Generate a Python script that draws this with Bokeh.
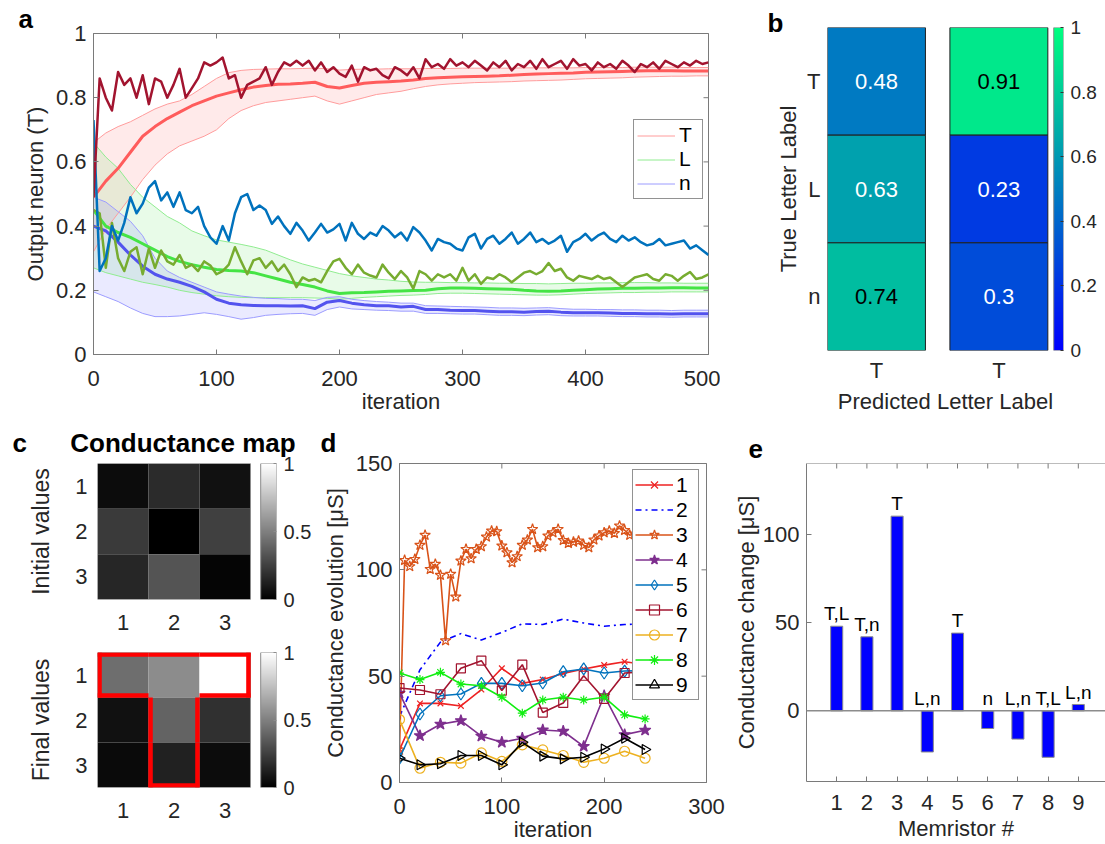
import numpy as np
from bokeh.plotting import figure
from bokeh.models import (Range1d, LinearAxis, FixedTicker, Legend, LegendItem, Title,
                          Span, ColumnDataSource, LinearColorMapper)
from bokeh.transform import linear_cmap
from bokeh.layouts import column, row
from bokeh.embed import file_html
from bokeh.resources import INLINE
from bokeh.core.properties import value

# ======================= DATA =======================
# ---- panel a : output neuron (T) vs iteration ----
iter_run = list(range(0, 501, 5))
T_run = [0.49, 0.86, 0.80, 0.76, 0.88, 0.84, 0.86, 0.80, 0.87, 0.78,
         0.86, 0.85, 0.80, 0.84, 0.89, 0.80, 0.83, 0.86, 0.91, 0.90,
         0.91, 0.925, 0.86, 0.87, 0.80, 0.84, 0.85, 0.86, 0.895, 0.84,
         0.88, 0.91, 0.90, 0.915, 0.90, 0.915, 0.885, 0.91, 0.88, 0.895,
         0.875, 0.865, 0.90, 0.85, 0.895, 0.885, 0.89, 0.87, 0.86, 0.895,
         0.885, 0.87, 0.895, 0.86, 0.92, 0.895, 0.905, 0.89, 0.92, 0.90,
         0.91, 0.895, 0.915, 0.90, 0.885, 0.91, 0.895, 0.915, 0.885, 0.905,
         0.895, 0.915, 0.89, 0.92, 0.895, 0.905, 0.915, 0.89, 0.92, 0.90,
         0.905, 0.885, 0.91, 0.895, 0.905, 0.89, 0.915, 0.90, 0.88, 0.905,
         0.895, 0.91, 0.89, 0.915, 0.905, 0.895, 0.91, 0.90, 0.915, 0.905, 0.91]
blue_run = [0.73, 0.26, 0.30, 0.40, 0.355, 0.41, 0.49, 0.44, 0.47, 0.52,
            0.54, 0.48, 0.505, 0.46, 0.505, 0.45, 0.44, 0.46, 0.40, 0.365,
            0.345, 0.40, 0.355, 0.44, 0.49, 0.50, 0.45, 0.464, 0.45, 0.407,
            0.43, 0.40, 0.376, 0.41, 0.386, 0.355, 0.38, 0.407, 0.38, 0.39,
            0.407, 0.355, 0.41, 0.376, 0.36, 0.38, 0.37, 0.40, 0.386, 0.365,
            0.38, 0.355, 0.397, 0.38, 0.355, 0.324, 0.36, 0.35, 0.345, 0.33,
            0.324, 0.365, 0.376, 0.33, 0.36, 0.37, 0.345, 0.36, 0.38, 0.345,
            0.36, 0.38, 0.35, 0.36, 0.345, 0.355, 0.37, 0.32, 0.35, 0.36,
            0.376, 0.355, 0.37, 0.38, 0.36, 0.35, 0.37, 0.355, 0.365, 0.35,
            0.34, 0.345, 0.36, 0.34, 0.345, 0.35, 0.355, 0.33, 0.34, 0.325, 0.31]
green_run = [0.45, 0.44, 0.27, 0.41, 0.30, 0.26, 0.32, 0.334, 0.25, 0.33,
             0.27, 0.324, 0.29, 0.28, 0.31, 0.27, 0.28, 0.26, 0.29, 0.277,
             0.25, 0.26, 0.28, 0.334, 0.29, 0.25, 0.293, 0.30, 0.27, 0.29,
             0.26, 0.28, 0.25, 0.21, 0.24, 0.23, 0.235, 0.225, 0.26, 0.29,
             0.298, 0.27, 0.25, 0.28, 0.255, 0.246, 0.24, 0.28, 0.255, 0.235,
             0.26, 0.24, 0.205, 0.26, 0.25, 0.23, 0.25, 0.24, 0.25, 0.23,
             0.27, 0.23, 0.25, 0.22, 0.24, 0.235, 0.25, 0.24, 0.225, 0.24,
             0.255, 0.26, 0.25, 0.26, 0.285, 0.26, 0.267, 0.24, 0.23, 0.245,
             0.24, 0.235, 0.245, 0.235, 0.24, 0.225, 0.21, 0.225, 0.24, 0.245,
             0.25, 0.235, 0.23, 0.25, 0.245, 0.23, 0.245, 0.257, 0.235, 0.24, 0.25]

iter_avg = list(range(0, 501, 10))
T_mean = [0.49, 0.54, 0.58, 0.63, 0.68, 0.71, 0.735, 0.755, 0.775, 0.79,
          0.805, 0.815, 0.825, 0.833, 0.838, 0.842, 0.843, 0.845, 0.848, 0.835,
          0.83, 0.838, 0.845, 0.848, 0.85, 0.852, 0.855, 0.86, 0.862, 0.864,
          0.865, 0.866, 0.867, 0.868, 0.87, 0.872, 0.874, 0.875, 0.876, 0.877,
          0.879, 0.88, 0.881, 0.882, 0.883, 0.884, 0.884, 0.884, 0.883, 0.883, 0.883]
T_hi = [0.66, 0.69, 0.71, 0.725, 0.745, 0.765, 0.78, 0.79, 0.81, 0.835,
        0.86, 0.878, 0.885, 0.888, 0.889, 0.89, 0.89, 0.891, 0.892, 0.89,
        0.886, 0.888, 0.889, 0.889, 0.89, 0.89, 0.89, 0.891, 0.891, 0.891,
        0.892, 0.892, 0.892, 0.892, 0.892, 0.893, 0.893, 0.893, 0.893, 0.893,
        0.894, 0.894, 0.894, 0.894, 0.895, 0.895, 0.895, 0.895, 0.894, 0.894, 0.894]
T_lo = [0.32, 0.39, 0.44, 0.49, 0.545, 0.59, 0.625, 0.65, 0.665, 0.68,
        0.70, 0.735, 0.76, 0.775, 0.785, 0.79, 0.795, 0.80, 0.805, 0.79,
        0.78, 0.79, 0.80, 0.81, 0.815, 0.82, 0.828, 0.835, 0.84, 0.843,
        0.845, 0.847, 0.848, 0.849, 0.85, 0.852, 0.853, 0.854, 0.855, 0.857,
        0.859, 0.86, 0.861, 0.862, 0.864, 0.865, 0.866, 0.867, 0.867, 0.868, 0.868]
L_mean = [0.45, 0.40, 0.38, 0.365, 0.345, 0.325, 0.305, 0.29, 0.28, 0.272,
          0.265, 0.262, 0.26, 0.255, 0.245, 0.235, 0.225, 0.218, 0.21, 0.198,
          0.19, 0.192, 0.193, 0.195, 0.197, 0.198, 0.199, 0.20, 0.205, 0.207,
          0.207, 0.206, 0.205, 0.204, 0.203, 0.20, 0.198, 0.197, 0.198, 0.20,
          0.202, 0.204, 0.205, 0.206, 0.206, 0.207, 0.207, 0.208, 0.208, 0.207, 0.207]
L_hi = [0.66, 0.615, 0.58, 0.53, 0.49, 0.46, 0.43, 0.41, 0.385, 0.37,
        0.357, 0.35, 0.343, 0.335, 0.325, 0.31, 0.295, 0.282, 0.272, 0.262,
        0.252, 0.245, 0.24, 0.235, 0.232, 0.228, 0.226, 0.225, 0.225, 0.224,
        0.224, 0.223, 0.223, 0.222, 0.222, 0.221, 0.221, 0.22, 0.221, 0.222,
        0.222, 0.223, 0.223, 0.224, 0.224, 0.224, 0.223, 0.223, 0.222, 0.222, 0.222]
L_lo = [0.27, 0.255, 0.245, 0.235, 0.225, 0.218, 0.21, 0.20, 0.193, 0.188,
        0.183, 0.18, 0.178, 0.177, 0.177, 0.177, 0.177, 0.177, 0.176, 0.175,
        0.172, 0.175, 0.178, 0.18, 0.182, 0.184, 0.185, 0.187, 0.19, 0.191,
        0.191, 0.19, 0.189, 0.188, 0.187, 0.186, 0.185, 0.185, 0.186, 0.188,
        0.19, 0.191, 0.192, 0.193, 0.193, 0.194, 0.194, 0.195, 0.195, 0.195, 0.195]
n_mean = [0.40, 0.385, 0.35, 0.31, 0.275, 0.25, 0.235, 0.225, 0.212, 0.195,
          0.172, 0.16, 0.155, 0.153, 0.152, 0.152, 0.151, 0.152, 0.143, 0.163,
          0.168, 0.16, 0.155, 0.152, 0.152, 0.148, 0.15, 0.14, 0.14, 0.138,
          0.137, 0.137, 0.135, 0.133, 0.133, 0.132, 0.134, 0.135, 0.132, 0.13,
          0.13, 0.13, 0.129, 0.128, 0.128, 0.127, 0.127, 0.126, 0.127, 0.127, 0.127]
n_hi = [0.49, 0.475, 0.445, 0.415, 0.37, 0.30, 0.26, 0.24, 0.225, 0.21,
        0.195, 0.188, 0.182, 0.178, 0.175, 0.174, 0.172, 0.172, 0.168, 0.178,
        0.18, 0.172, 0.168, 0.165, 0.163, 0.16, 0.16, 0.152, 0.151, 0.15,
        0.149, 0.148, 0.147, 0.145, 0.145, 0.144, 0.145, 0.146, 0.143, 0.141,
        0.141, 0.14, 0.14, 0.139, 0.139, 0.138, 0.138, 0.137, 0.138, 0.138, 0.138]
n_lo = [0.195, 0.18, 0.165, 0.145, 0.128, 0.118, 0.118, 0.12, 0.125, 0.13,
        0.125, 0.118, 0.11, 0.115, 0.122, 0.125, 0.127, 0.128, 0.122, 0.14,
        0.148, 0.142, 0.14, 0.138, 0.137, 0.135, 0.135, 0.128, 0.128, 0.127,
        0.126, 0.126, 0.124, 0.122, 0.122, 0.121, 0.123, 0.124, 0.121, 0.12,
        0.12, 0.12, 0.119, 0.118, 0.118, 0.117, 0.117, 0.116, 0.117, 0.117, 0.117]
a_xticks = [0, 100, 200, 300, 400, 500]
a_yticks = [0, 0.2, 0.4, 0.6, 0.8, 1]
a_ylabels = ["0", "0.2", "0.4", "0.6", "0.8", "1"]

# ---- panel b : confusion values ----
true_labels = ["T", "L", "n"]
pred_labels = ["T", "T"]
conf_left = [0.48, 0.63, 0.74]
conf_right = [0.91, 0.23, 0.3]
b_cticks = [0, 0.2, 0.4, 0.6, 0.8, 1]
b_clabels = ["0", "0.2", "0.4", "0.6", "0.8", "1"]

# ---- panel c : conductance maps (normalised) ----
init_map = [[0.05, 0.17, 0.07],
            [0.23, 0.00, 0.25],
            [0.15, 0.33, 0.02]]
final_map = [[0.43, 0.55, 1.00],
             [0.07, 0.39, 0.19],
             [0.04, 0.13, 0.05]]
T_mask = [[1, 1, 1],
          [0, 1, 0],
          [0, 1, 0]]

# ---- panel d : conductance evolution ----
iter_d = [0, 20, 40, 60, 80, 100, 120, 140, 160, 180, 200, 220, 240]
g1 = [15.3, 37.2, 37.2, 36.0, 43.7, 53.7, 46.6, 48.4, 51.3, 53.4, 55.2, 56.8, 55.5]
g2 = [31, 53, 66, 70, 67, 70.6, 74.6, 74.3, 76.8, 75, 73.5, 74.3, 74.6]
g4 = [42, 22, 27.4, 29.1, 21.8, 18.9, 20.8, 24.7, 24.1, 17, 40.8, 22.5, 24.6]
g5 = [11.4, 32.2, 40.8, 41.6, 46.6, 46.6, 45.5, 46.8, 52.1, 53.4, 51.5, 52.4, 52.6]
g6 = [44.4, 43.5, 41.5, 53.7, 57.3, 43.2, 55.4, 32.9, 37.4, 50.2, 39.3, 51.5, 52]
g7 = [29.6, 6.7, 9.5, 9.1, 13.9, 9.9, 17.7, 15.3, 12.7, 9.5, 11.4, 14.7, 11.4]
g8 = [51.5, 48.4, 51.8, 46.3, 45.5, 40.1, 32.6, 38.8, 40.1, 38.8, 40.1, 31.8, 29.9]
g9 = [11.4, 8.3, 8.8, 12.7, 12.7, 8.3, 18.9, 12.4, 11.1, 11.9, 15.8, 20.8, 15.5]
iter_d3 = list(range(0, 241, 5))
g3 = [15.3, 104.5, 101.6, 105, 111.6, 116.3, 100.3, 102.7, 97.5, 66.7,
      98, 87.3, 104.2, 109.7, 105.3, 109.7, 111, 115.5, 118.3, 118,
      111.3, 108.1, 103.4, 106.3, 111.6, 114.1, 119.1, 110.5, 111, 116,
      117.5, 119.1, 113.9, 112.5, 113.1, 113.6, 111.6, 110.5, 114.1, 116,
      117.5, 118.3, 117.2, 120.7, 118.6, 116.3, 117, 118, 116.5]
d_xticks = [0, 100, 200, 300]
d_yticks = [0, 50, 100, 150]

# ---- panel e : conductance change ----
memristor = [1, 2, 3, 4, 5, 6, 7, 8, 9]
g_change = [47.9, 41.9, 110.2, -23.3, 44.0, -10.0, -16.0, -26.3, 3.6]
change_labels = ["T,L", "T,n", "T", "L,n", "T", "n", "L,n", "T,L", "L,n"]
e_yticks = [0, 50, 100]

# ======================= STYLE =======================
FONT = "Liberation Sans"
TXT = "#262626"
AX = "#7a7a7a"
NB = "\u00a0"


def base_fig(w, h, l, r, t, b, xr, yr):
    p = figure(width=w, height=h, x_range=xr, y_range=yr, output_backend="svg",
               toolbar_location=None, min_border_left=l, min_border_right=r,
               min_border_top=t, min_border_bottom=b, frame_align=False)
    p.xgrid.visible = False
    p.ygrid.visible = False
    p.outline_line_color = None
    p.border_fill_color = "white"
    p.background_fill_color = "white"
    p.title.visible = False
    return p


def style_axis(ax, size="21px", standoff=8, lstandoff=4):
    ax.axis_line_color = AX
    ax.major_tick_line_color = AX
    ax.major_tick_in = 5
    ax.major_tick_out = 0
    ax.minor_tick_line_color = None
    ax.major_label_text_font = FONT
    ax.major_label_text_font_size = size
    ax.major_label_text_color = TXT
    ax.major_label_standoff = standoff
    ax.axis_label_text_font = FONT
    ax.axis_label_text_font_size = size
    ax.axis_label_text_font_style = "normal"
    ax.axis_label_text_color = TXT
    ax.axis_label_standoff = lstandoff


def edge_ticks(p, top_ticks=None, right_ticks=None):
    # MATLAB-style inward ticks on the top / right box edges
    if top_ticks is not None:
        p.scatter(x=top_ticks, y=[p.y_range.end] * len(top_ticks), marker="dash",
                  angle=np.pi / 2, size=10, line_color=AX, line_width=1)
    if right_ticks is not None:
        p.scatter(x=[p.x_range.end] * len(right_ticks), y=right_ticks, marker="dash",
                  size=10, line_color=AX, line_width=1)


def set_letter(p, text, offset, standoff, size="26px"):
    p.title = Title(text=text, align="left", offset=offset, standoff=standoff,
                    text_font=FONT, text_font_size=size, text_font_style="bold",
                    text_color="black")


winter = ["#00%02x%02x" % (int(round(255 * t)), int(round(255 * (1 - 0.5 * t))))
          for t in np.linspace(0, 1, 256)]
grays = ["#%02x%02x%02x" % (v, v, v) for v in range(256)]
grad = np.linspace(0, 1, 256).reshape(256, 1)

# ======================= PANEL A =======================
pa = base_fig(720, 418, 93, 12, 33, 64, Range1d(0, 500), Range1d(0, 1))
pa.outline_line_color = AX
band_specs = [
    (T_lo, T_hi, T_mean, "#ff6b6b", "#ff9c9c", "#ff5c5c", "T"),
    (L_lo, L_hi, L_mean, "#5fe35f", "#90ec90", "#45e445", "L"),
    (n_lo, n_hi, n_mean, "#6b6bff", "#9c9cff", "#5353ee", "n"),
]
for lo, hi, mean, fillc, edgec, meanc, lab in band_specs:
    pa.varea(x=iter_avg, y1=lo, y2=hi, fill_color=fillc, fill_alpha=0.14)
leg_items = []
for lo, hi, mean, fillc, edgec, meanc, lab in band_specs:
    pa.line(iter_avg, lo, line_color=edgec, line_width=1)
    r = pa.line(iter_avg, hi, line_color=edgec, line_width=1)
    leg_items.append(LegendItem(label=value(lab), renderers=[r]))
for lo, hi, mean, fillc, edgec, meanc, lab in band_specs:
    pa.line(iter_avg, mean, line_color=meanc, line_width=3, line_join="round")
pa.line(iter_run, green_run, line_color="#77AC30", line_width=2.5, line_join="round")
pa.line(iter_run, blue_run, line_color="#0072BD", line_width=2.5, line_join="round")
pa.line(iter_run, T_run, line_color="#A2142F", line_width=2.5, line_join="round")

axb = pa.below[0]
axl = pa.left[0]
style_axis(axb, size="22px", standoff=16, lstandoff=0)
style_axis(axl, size="22px", standoff=7, lstandoff=5)
axb.ticker = FixedTicker(ticks=a_xticks)
axl.ticker = FixedTicker(ticks=a_yticks)
axl.major_label_overrides = dict(zip(a_yticks, a_ylabels))
axb.axis_label = "iteration"
axl.axis_label = "Output neuron (T)"
edge_ticks(pa, a_xticks, a_yticks)

leg_a = Legend(items=leg_items, location=(540, 155))
leg_a.label_text_font = FONT
leg_a.label_text_font_size = "21px"
leg_a.label_text_color = "black"
leg_a.glyph_width = 38
leg_a.glyph_height = 23
leg_a.label_height = 23
leg_a.padding = 3
leg_a.spacing = 0
leg_a.label_standoff = 4
leg_a.margin = 0
leg_a.border_line_color = "#262626"
leg_a.border_line_width = 1
leg_a.background_fill_color = "white"
leg_a.background_fill_alpha = 1
pa.add_layout(leg_a)
set_letter(pa, "a", -75, 0)

# ======================= PANEL B =======================
pb = base_fig(385, 418, 107, 42, 27, 68, Range1d(-0.5, 1.91), Range1d(-0.5, 2.5))
col_x = [0, 1.25]
row_y = [2, 1, 0]
bx, by, bv = [], [], []
for cx, vals in zip(col_x, [conf_left, conf_right]):
    for ry, v in zip(row_y, vals):
        bx.append(cx)
        by.append(ry)
        bv.append(v)
src_b = ColumnDataSource(dict(x=bx, y=by, v=bv, t=["%g" % v for v in bv],
                              tc=["white" if v < 0.7 else "black" for v in bv]))
pb.rect(x="x", y="y", width=1, height=1, source=src_b,
        fill_color=linear_cmap("v", winter, 0, 1), line_color="#1e1e1e", line_width=1)
pb.text(x="x", y="y", text="t", source=src_b, text_color="tc", text_align="center",
        text_baseline="middle", text_font=value(FONT), text_font_size="22px")
pb.image(image=[grad], x=1.81, y=-0.5, dw=0.1, dh=3,
         color_mapper=LinearColorMapper(palette=winter, low=0, high=1))
pb.quad(left=1.81, right=1.91, bottom=-0.5, top=2.5, fill_color=None, line_color="#8c8c8c")
pb.extra_y_ranges = {"cb": Range1d(0, 1)}
cb_ax = LinearAxis(y_range_name="cb", ticker=FixedTicker(ticks=b_cticks))
style_axis(cb_ax, size="19px", standoff=7)
cb_ax.axis_line_color = None
cb_ax.major_tick_in = 3
cb_ax.major_tick_line_color = "#333333"
cb_ax.major_label_overrides = dict(zip(b_cticks, b_clabels))
pb.add_layout(cb_ax, "right")
bl = pb.left[0]
bb = pb.below[0]
style_axis(bl, size="22px", standoff=7, lstandoff=3)
style_axis(bb, size="22px", standoff=7, lstandoff=3)
bl.ticker = FixedTicker(ticks=row_y)
bl.major_label_overrides = dict(zip(row_y, true_labels))
bb.ticker = FixedTicker(ticks=col_x)
bb.major_label_overrides = dict(zip(col_x, pred_labels))
for ax in (bl, bb):
    ax.axis_line_color = None
    ax.major_tick_line_color = None
bl.axis_label = "True Letter Label"
bb.axis_label = "Predicted Letter Label"
set_letter(pb, "b", -60, -21)


# ======================= PANEL C =======================
def conductance_fig(vals, h, top, bottom, ylabel):
    p = base_fig(318, h, 97, 42, top, bottom, Range1d(0.5, 4.01), Range1d(0.5, 3.5))
    xs, ys, vs = [], [], []
    for r in range(3):
        for c in range(3):
            xs.append(c + 1)
            ys.append(3 - r)
            vs.append(vals[r][c])
    src = ColumnDataSource(dict(x=xs, y=ys, v=vs))
    p.rect(x="x", y="y", width=1, height=1, source=src,
           fill_color=linear_cmap("v", grays, 0, 1), line_color=None)
    p.quad(left=0.5, right=3.5, bottom=0.5, top=3.5, fill_color=None, line_color="#8c8c8c")
    p.image(image=[grad], x=3.7, y=0.5, dw=0.31, dh=3.0,
            color_mapper=LinearColorMapper(palette=grays, low=0, high=1))
    p.quad(left=3.7, right=4.01, bottom=0.5, top=3.5, fill_color=None, line_color="#8c8c8c")
    p.extra_y_ranges = {"cb": Range1d(0, 1)}
    cax = LinearAxis(y_range_name="cb", ticker=FixedTicker(ticks=[0, 0.5, 1]))
    style_axis(cax, size="20px", standoff=7)
    cax.axis_line_color = None
    cax.major_tick_in = 3
    cax.major_tick_line_color = "#8c8c8c"
    cax.major_label_overrides = {0: "0", 0.5: "0.5", 1: "1"}
    p.add_layout(cax, "right")
    yl = p.left[0]
    xb = p.below[0]
    style_axis(yl, size="22px", standoff=10, lstandoff=18)
    style_axis(xb, size="22px", standoff=15)
    yl.axis_label_text_font_size = "23px"
    yl.ticker = FixedTicker(ticks=[1, 2, 3])
    yl.major_label_overrides = {3: "1", 2: "2", 1: "3"}
    xb.ticker = FixedTicker(ticks=[1, 2, 3])
    for ax in (yl, xb):
        ax.axis_line_color = None
        ax.major_tick_line_color = None
    yl.axis_label = ylabel
    return p


pc1 = conductance_fig(init_map, 222, 45, 41, "Initial values")
pc2 = conductance_fig(final_map, 204, 12, 57, "Final values")
# outline of the letter T pattern on the final map
dxi, dyi = 0.04, 0.045
seg_x, seg_y = [], []
for r in range(3):
    for c in range(3):
        if not T_mask[r][c]:
            continue
        x0, x1 = c + 0.5, c + 1.5
        y0, y1 = 2.5 - r, 3.5 - r
        if r == 0 or not T_mask[r - 1][c]:
            seg_x.append([x0, x1]); seg_y.append([y1 - dyi, y1 - dyi])
        if r == 2 or not T_mask[r + 1][c]:
            seg_x.append([x0, x1]); seg_y.append([y0 + dyi, y0 + dyi])
        if c == 0 or not T_mask[r][c - 1]:
            seg_x.append([x0 + dxi, x0 + dxi]); seg_y.append([y0, y1])
        if c == 2 or not T_mask[r][c + 1]:
            seg_x.append([x1 - dxi, x1 - dxi]); seg_y.append([y0, y1])
pc2.multi_line(xs=seg_x, ys=seg_y, line_color="#ff0000", line_width=4.5, line_cap="butt")
set_letter(pc1, "c" + NB * 6 + "Conductance map", -85, 12)

# ======================= PANEL D =======================
pd = base_fig(412, 426, 81, 24, 45, 60, Range1d(0, 300), Range1d(0, 150))
pd.outline_line_color = AX
series = [
    ("1", iter_d, g1, "#ee2222", "x", 8, None, "solid"),
    ("2", iter_d, g2, "#0000ff", None, 0, None, "dashdot"),
    ("3", iter_d3, g3, "#D95319", "star", 11, None, "solid"),
    ("4", iter_d, g4, "#7E2F8E", "star", 12, "#7E2F8E", "solid"),
    ("5", iter_d, g5, "#0072BD", "diamond", 12, None, "solid"),
    ("6", iter_d, g6, "#A2142F", "square", 9, None, "solid"),
    ("7", iter_d, g7, "#EDB120", "circle", 10, None, "solid"),
    ("8", iter_d, g8, "#11ee11", "asterisk", 9, None, "solid"),
    ("9", iter_d, g9, "#000000", "triangle", 10, None, "solid"),
]
for lab, xs, ys, col, mk, sz, fillc, dash in series:
    pd.line(xs, ys, line_color=col, line_width=1.6, line_dash=dash, legend_label=lab)
    if mk is not None:
        ang = -np.pi / 2 if lab == "9" else 0
        pd.scatter(xs, ys, marker=mk, size=sz, line_color=col, fill_color=fillc,
                   line_width=1.2, angle=ang, legend_label=lab)
dl = pd.left[0]
db = pd.below[0]
style_axis(dl, size="22px", standoff=7, lstandoff=5)
style_axis(db, size="22px", standoff=16, lstandoff=0)
dl.ticker = FixedTicker(ticks=d_yticks)
db.ticker = FixedTicker(ticks=d_xticks)
dl.axis_label = "Conductance evolution [μS]"
db.axis_label = "iteration"
edge_ticks(pd, d_xticks, d_yticks)
lg = pd.legend[0]
lg.location = (233, 82)
lg.label_text_font = FONT
lg.label_text_font_size = "21px"
lg.label_text_color = "black"
lg.glyph_width = 38
lg.glyph_height = 25
lg.label_height = 25
lg.padding = 2
lg.spacing = 0
lg.label_standoff = 3
lg.margin = 0
lg.border_line_color = "#262626"
lg.background_fill_alpha = 1
set_letter(pd, "d", -79, 12)

# ======================= PANEL E =======================
pe = base_fig(375, 426, 72, 0, 45, 63, Range1d(0, 9.9), Range1d(-40, 140))
pe.vbar(x=memristor, top=g_change, bottom=0, width=0.4, fill_color="#0000ff",
        line_color="#8c8c8c", line_width=1)
pe.add_layout(Span(location=0, dimension="width", line_color="#8c8c8c", line_width=1.5))
lab_y = [max(v, 0) + 1 for v in g_change]
pe.text(x=memristor, y=lab_y, text=change_labels, text_align="center",
        text_baseline="bottom", text_font=value(FONT), text_font_size="19px",
        text_color="black")
el = pe.left[0]
eb = pe.below[0]
style_axis(el, size="22px", standoff=7, lstandoff=1)
style_axis(eb, size="22px", standoff=13, lstandoff=3)
el.ticker = FixedTicker(ticks=e_yticks)
eb.ticker = FixedTicker(ticks=memristor)
el.axis_label = "Conductance change [μS]"
eb.axis_label = "Memristor #"
pe.add_layout(Span(location=140, dimension="width", line_color=AX, line_width=1))
edge_ticks(pe, memristor, None)
set_letter(pe, "e", -58, 12)

# ======================= LAYOUT =======================
layout = column(row(pa, pb), row(column(pc1, pc2), pd, pe))
open("out.html", "w").write(file_html(layout, INLINE))
